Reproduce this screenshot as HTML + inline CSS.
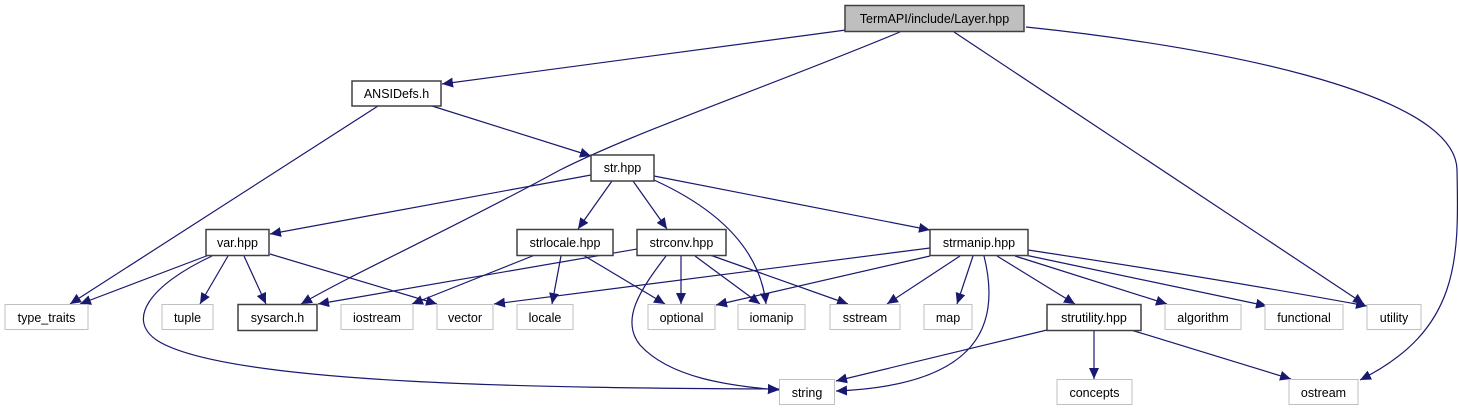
<!DOCTYPE html>
<html><head><meta charset="utf-8"><style>
html,body{margin:0;padding:0;background:#fff;}
svg{display:block;}
text{font-family:"Liberation Sans",sans-serif;font-size:12.5px;fill:#000;text-anchor:middle;}
.n{fill:#fff;stroke:#bfbfbf;stroke-width:1}
.b{fill:#fff;stroke:#404040;stroke-width:1.5}
.e{fill:none;stroke:#191970;stroke-width:1.2}
</style></head><body>
<svg width="1459" height="411" viewBox="0 0 1459 411" xmlns="http://www.w3.org/2000/svg">
<defs><marker id="a" markerUnits="userSpaceOnUse" markerWidth="12" markerHeight="10" refX="11" refY="5" orient="auto"><path d="M0,0 L11,5 L0,10 Z" fill="#191970"/></marker></defs>
<g class="e" marker-end="url(#a)">
<path d="M846,30 L442,84"/>
<path d="M900,32 C760,90 640,130 560,170 C450,230 360,270 301,304"/>
<path d="M954,32 L1364,304"/>
<path d="M1026,27 C1200,45 1456,90 1457,170 C1459,260 1460,330 1360,380"/>
<path d="M432,106 L591,156"/>
<path d="M378,106 L70,304"/>
<path d="M591,175 L270,234"/>
<path d="M612,181 L578,229"/>
<path d="M633,181 L667,229"/>
<path d="M654,176 L930,230"/>
<path d="M654,180 C720,210 760,250 766,304"/>
<path d="M209,255 L80,304"/>
<path d="M228,256 L200,304"/>
<path d="M244,256 L266,304"/>
<path d="M270,254 L437,304"/>
<path d="M212,256 C150,285 125,320 158,341 C230,385 550,388 779,389"/>
<path d="M535,255 L412,304"/>
<path d="M561,256 L552,304"/>
<path d="M583,255 L665,304"/>
<path d="M637,249 L318,304"/>
<path d="M681,256 L681,304"/>
<path d="M695,256 L760,304"/>
<path d="M710,255 L848,304"/>
<path d="M666,256 C640,290 620,320 640,345 C670,378 730,386 779,390"/>
<path d="M930,248 L494,304"/>
<path d="M930,256 L716,305"/>
<path d="M960,256 L887,304"/>
<path d="M973,256 L957,304"/>
<path d="M984,256 C1000,320 985,385 836,391"/>
<path d="M997,256 L1075,304"/>
<path d="M1015,256 L1167,304"/>
<path d="M1025,255 L1267,306"/>
<path d="M1028,250 C1160,270 1280,290 1367,306"/>
<path d="M1047,330 L836,381"/>
<path d="M1094,330 L1094,379"/>
<path d="M1131,330 L1291,379"/>
</g>
<rect x="845" y="5.5" width="179" height="26" fill="#bfbfbf" stroke="#404040" stroke-width="1.5"/><text x="934.5" y="23">TermAPI/include/Layer.hpp</text>
<rect class="b" x="352" y="81" width="89" height="25"/><text x="396.5" y="98">ANSIDefs.h</text>
<rect class="b" x="591" y="155" width="63" height="26"/><text x="622.5" y="172">str.hpp</text>
<rect class="b" x="206" y="229.5" width="63" height="26"/><text x="237.5" y="247">var.hpp</text>
<rect class="b" x="517" y="229.5" width="96" height="26"/><text x="565" y="247">strlocale.hpp</text>
<rect class="b" x="637" y="229.5" width="89" height="26"/><text x="681.5" y="247">strconv.hpp</text>
<rect class="b" x="930" y="229.5" width="98" height="26"/><text x="979" y="247">strmanip.hpp</text>
<rect class="n" x="5" y="304.5" width="83" height="25"/><text x="46.5" y="322">type_traits</text>
<rect class="n" x="162" y="304.5" width="51" height="25"/><text x="187.5" y="322">tuple</text>
<rect class="b" x="238" y="304.5" width="79" height="26"/><text x="277.5" y="322">sysarch.h</text>
<rect class="n" x="341" y="304.5" width="72" height="25"/><text x="377" y="322">iostream</text>
<rect class="n" x="437" y="304.5" width="56" height="25"/><text x="465" y="322">vector</text>
<rect class="n" x="517" y="304.5" width="56" height="25"/><text x="545" y="322">locale</text>
<rect class="n" x="648" y="304.5" width="67" height="25"/><text x="681.5" y="322">optional</text>
<rect class="n" x="738" y="304.5" width="67" height="25"/><text x="771.5" y="322">iomanip</text>
<rect class="n" x="830" y="304.5" width="70" height="25"/><text x="865" y="322">sstream</text>
<rect class="n" x="924" y="304.5" width="48" height="25"/><text x="948" y="322">map</text>
<rect class="b" x="1047" y="304.5" width="94" height="26"/><text x="1094" y="322">strutility.hpp</text>
<rect class="n" x="1165" y="304.5" width="76" height="25"/><text x="1203" y="322">algorithm</text>
<rect class="n" x="1265" y="304.5" width="78" height="25"/><text x="1304" y="322">functional</text>
<rect class="n" x="1367" y="304.5" width="54" height="25"/><text x="1394" y="322">utility</text>
<rect class="n" x="779.5" y="379.5" width="55" height="25"/><text x="807" y="397">string</text>
<rect class="n" x="1057" y="379.5" width="75" height="25"/><text x="1094.5" y="397">concepts</text>
<rect class="n" x="1289" y="379.5" width="69" height="25"/><text x="1323.5" y="397">ostream</text>
</svg>
</body></html>
